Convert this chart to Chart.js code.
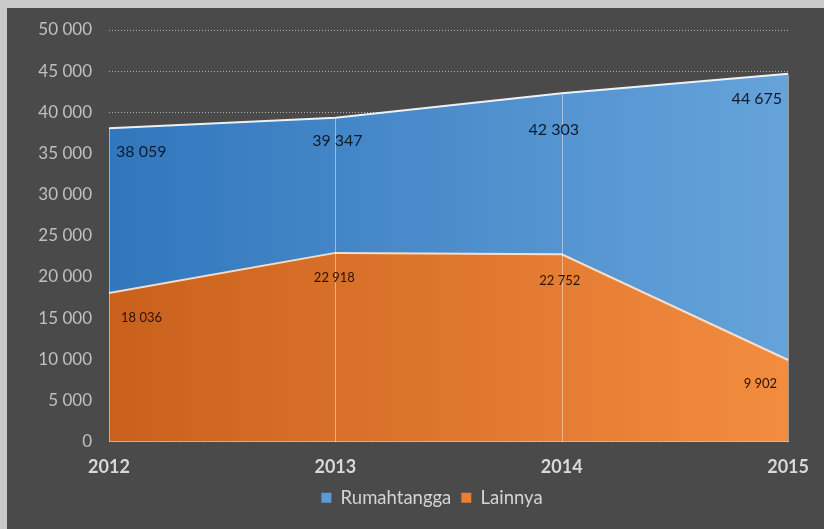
<!DOCTYPE html>
<html>
<head>
<meta charset="utf-8">
<script src="https://cdn.jsdelivr.net/npm/chart.js@4.4.1/dist/chart.umd.min.js"></script>
<style>
  html, body { margin: 0; padding: 0; background: #c9c9c9; overflow: hidden; width: 824px; height: 529px; }
  #frame { position: absolute; left: 7px; top: 8px; width: 817px; height: 521px; background: #4a4a4a; }
  canvas { display: block; }
</style>
</head>
<body>
<div id="frame"><canvas id="areaChart" width="817" height="521"></canvas></div>
<script>
// data
const years = ['2012', '2013', '2014', '2015'];
const rumahtangga = [38059, 39347, 42303, 44675];
const lainnya = [18036, 22918, 22752, 9902];
const yTicks = [0, 5000, 10000, 15000, 20000, 25000, 30000, 35000, 40000, 45000, 50000];

const fmt = v => String(v).replace(/\B(?=(\d{3})+(?!\d))/g, ' ');

function hGradient(ctx, area, c1, c2) {
    const g = ctx.createLinearGradient(area.left, 0, area.right, 0);
    g.addColorStop(0, c1); g.addColorStop(1, c2);
    return g;
}

// label placement per series: [dx, dy, align]
const lblBlue = [[7, 24, 'left'], [2, 23, 'center'], [-8, 36, 'center'], [-6, 25, 'right']];
const lblOrange = [[12, 25, 'left'], [-1, 25, 'center'], [-2, 27, 'center'], [-11, 24, 'right']];

// thin drop lines from the top of the blue area down to the axis
const dropLines = {
    id: 'dropLines',
    afterDatasetsDraw(chart) {
        const ctx = chart.ctx, bottom = chart.chartArea.bottom;
        const meta = chart.getDatasetMeta(0);
        ctx.save();
        ctx.strokeStyle = 'rgba(255,255,255,0.45)';
        ctx.lineWidth = 1;
        meta.data.forEach(pt => {
            const x = Math.round(pt.x) + 0.5;
            ctx.beginPath(); ctx.moveTo(x, pt.y + 1); ctx.lineTo(x, bottom); ctx.stroke();
        });
        ctx.restore();
    }
};

const valueLabels = {
    id: 'valueLabels',
    afterDatasetsDraw(chart) {
        const ctx = chart.ctx;
        ctx.save();
        ctx.textBaseline = 'middle';
        chart.data.datasets.forEach((ds, i) => {
            const meta = chart.getDatasetMeta(i);
            const place = i === 0 ? lblBlue : lblOrange;
            ctx.font = i === 0 ? "16px Lato" : "13px Lato";
            ctx.fillStyle = i === 0 ? '#0d1b2e' : '#2b1300';
            meta.data.forEach((pt, j) => {
                const p = place[j];
                ctx.textAlign = p[2];
                ctx.fillText(fmt(ds.data[j]), pt.x + p[0], pt.y + p[1]);
            });
        });
        ctx.restore();
    }
};

// the legend in the picture sits a bit right of centre
const legendShift = {
    id: 'legendShift',
    afterLayout(chart) {
        if (chart.legend) { chart.legend.left += 30; chart.legend.right += 30; }
    }
};

const chart = new Chart(document.getElementById('areaChart').getContext('2d'), {
    type: 'line',
    data: {
        labels: years,
        datasets: [
            {
                label: 'Rumahtangga', data: rumahtangga, fill: 'origin', order: 1,
                backgroundColor: c => c.chart.chartArea ? hGradient(c.chart.ctx, c.chart.chartArea, '#3177bd', '#66a3da') : '#4a8ccc',
                borderColor: 'rgba(255,255,255,0.9)', borderWidth: 2, pointRadius: 0, tension: 0
            },
            {
                label: 'Lainnya', data: lainnya, fill: 'origin', order: 0,
                backgroundColor: c => c.chart.chartArea ? hGradient(c.chart.ctx, c.chart.chartArea, '#c9611c', '#f28c3f') : '#e07a30',
                borderColor: 'rgba(255,232,212,0.9)', borderWidth: 2, pointRadius: 0, tension: 0
            }
        ]
    },
    options: {
        responsive: false, animation: false,
        layout: { padding: { top: 22, right: 27, bottom: 12, left: 0 } },
        plugins: {
            tooltip: { enabled: false },
            legend: {
                position: 'bottom',
                labels: {
                    color: '#d4d4d4', font: { family: 'Lato', size: 18.5 }, boxWidth: 10, boxHeight: 10, padding: 10,
                    sort: (a, b) => a.datasetIndex - b.datasetIndex,
                    generateLabels: ch => {
                        const items = Chart.defaults.plugins.legend.labels.generateLabels(ch);
                        const solid = ['#5b9bd5', '#ed7d31'];
                        items.forEach(it => { const c = solid[it.datasetIndex]; it.fillStyle = c; it.strokeStyle = c; it.lineWidth = 0; });
                        return items;
                    }
                }
            }
        },
        scales: {
            x: {
                grid: { display: false, drawTicks: false },
                border: { display: true, color: 'rgba(255,215,185,0.8)', width: 1 },
                ticks: { color: '#d9d9d9', font: { family: 'Lato', size: 18, weight: 'bold' }, padding: 15, maxRotation: 0 },
                afterFit: s => { s.height = 37; }
            },
            y: {
                min: 0, max: 50000,
                afterBuildTicks: s => { s.ticks = yTicks.map(v => ({ value: v })); },
                grid: { color: '#b0b0b0', lineWidth: 1, drawTicks: false },
                border: { display: true, color: 'rgba(0,0,0,0)', width: 0, dash: [1, 2] },
                ticks: { color: '#c0c0c0', font: { family: 'Lato', size: 17 }, padding: 17, callback: v => fmt(v) },
                afterFit: s => { s.width = 102; s.paddingTop = 0; s.paddingBottom = 0; }
            }
        }
    },
    plugins: [dropLines, valueLabels, legendShift]
});
</script>
</body>
</html>
